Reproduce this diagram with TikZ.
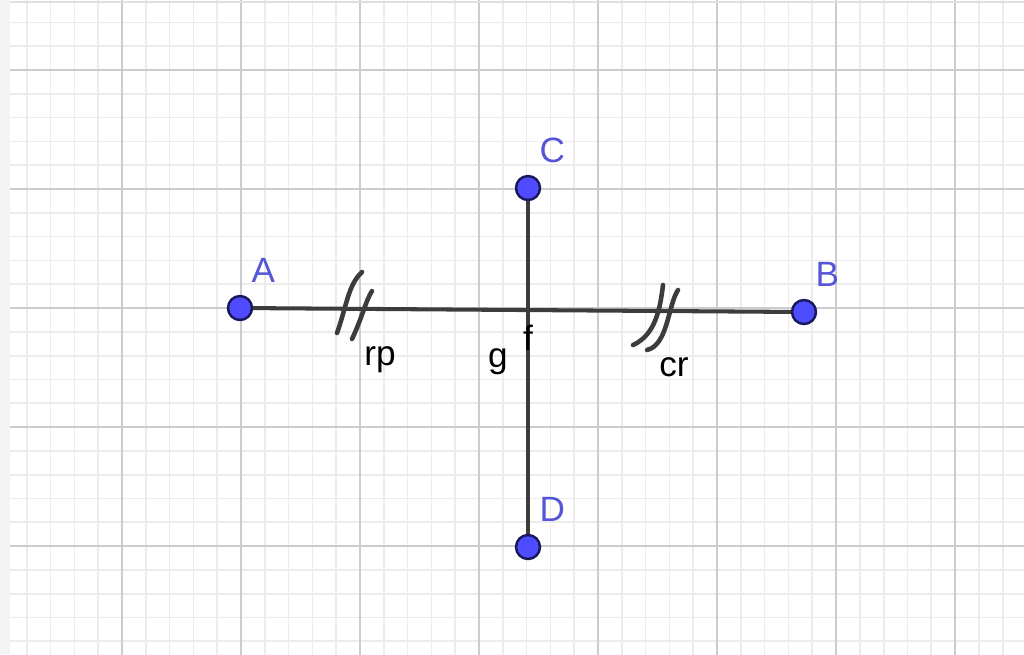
\documentclass[tikz,border=0pt]{standalone}
\usepackage{fontspec}
\setmainfont{Liberation Sans}
\usetikzlibrary{positioning}
\definecolor{ptblue}{RGB}{77,77,255}
\definecolor{ptedge}{RGB}{25,25,90}
\definecolor{lblblue}{RGB}{85,85,215}
\definecolor{segcol}{RGB}{60,60,60}
\definecolor{majorcol}{RGB}{204,204,204}
\definecolor{minorcol}{RGB}{236,236,236}
\tikzset{
  pt/.style={circle,draw=ptedge,fill=ptblue,line width=0.7pt,minimum size=0.24cm,inner sep=0pt},
  ptlabel/.style={text=lblblue,font=\fontsize{10}{10}\selectfont,inner sep=1pt},
  seglabel/.style={font=\fontsize{10}{10}\selectfont,inner sep=1pt},
  segline/.style={draw=segcol,line width=1.15pt},
  hashmark/.style={draw=segcol,line width=1.3pt,line cap=round}
}
\begin{document}
\begin{tikzpicture}
  \useasboundingbox (0,0) rectangle (10.24,-6.54);
  \fill[white] (0,0) rectangle (10.24,-6.54);
  \begin{scope}
    \clip (0.10,0) rectangle (10.24,-6.54);
    \begin{scope}[shift={(1.22,-0.70)}]
      \draw[minorcol,line width=0.5pt] (-1.19,-5.95) grid[step=0.238] (9.52,1.19);
      \draw[majorcol,line width=0.65pt] (-1.19,-5.95) grid[step=1.19] (9.52,1.19);
    \end{scope}
  \end{scope}
  \fill[gray!9] (0,0) rectangle (0.10,-6.54);
  \draw[gray!25,line width=0.6pt] (0.10,-0.02) -- (10.24,-0.02);

  \node[pt] (A) at (2.40,-3.08) {};
  \node[pt] (B) at (8.04,-3.12) {};
  \node[pt] (C) at (5.28,-1.88) {};
  \node[pt] (D) at (5.28,-5.47) {};
  \coordinate (f) at (5.28,-3.10);

  \draw[segline] (A) -- (B);
  \draw[segline] (C) -- (D);

  \draw[hashmark] (3.37,-3.33) .. controls (3.47,-3.05) and (3.48,-2.85) .. (3.62,-2.72);
  \draw[hashmark] (3.52,-3.39) .. controls (3.62,-3.18) and (3.66,-3.00) .. (3.72,-2.91);
  \draw[hashmark] (6.33,-3.45) .. controls (6.55,-3.35) and (6.60,-3.10) .. (6.63,-2.85);
  \draw[hashmark] (6.47,-3.50) .. controls (6.68,-3.45) and (6.68,-3.05) .. (6.78,-2.90);

  \node[ptlabel, above right=0.12cm and -0.02cm of A] {A};
  \node[ptlabel, above right=0.12cm and -0.02cm of B] {B};
  \node[ptlabel, above right=0.12cm and -0.02cm of C] {C};
  \node[ptlabel, above right=0.12cm and -0.02cm of D] {D};

  \node[seglabel, below=0.11cm of f] (flbl) {f};
  \node[seglabel, below left=0.34cm and 0.16cm of f] (glbl) {g};
  \node[seglabel] (rplbl) at (3.80,-3.60) {rp};
  \node[seglabel] (crlbl) at (6.74,-3.67) {cr};
\end{tikzpicture}
\end{document}
